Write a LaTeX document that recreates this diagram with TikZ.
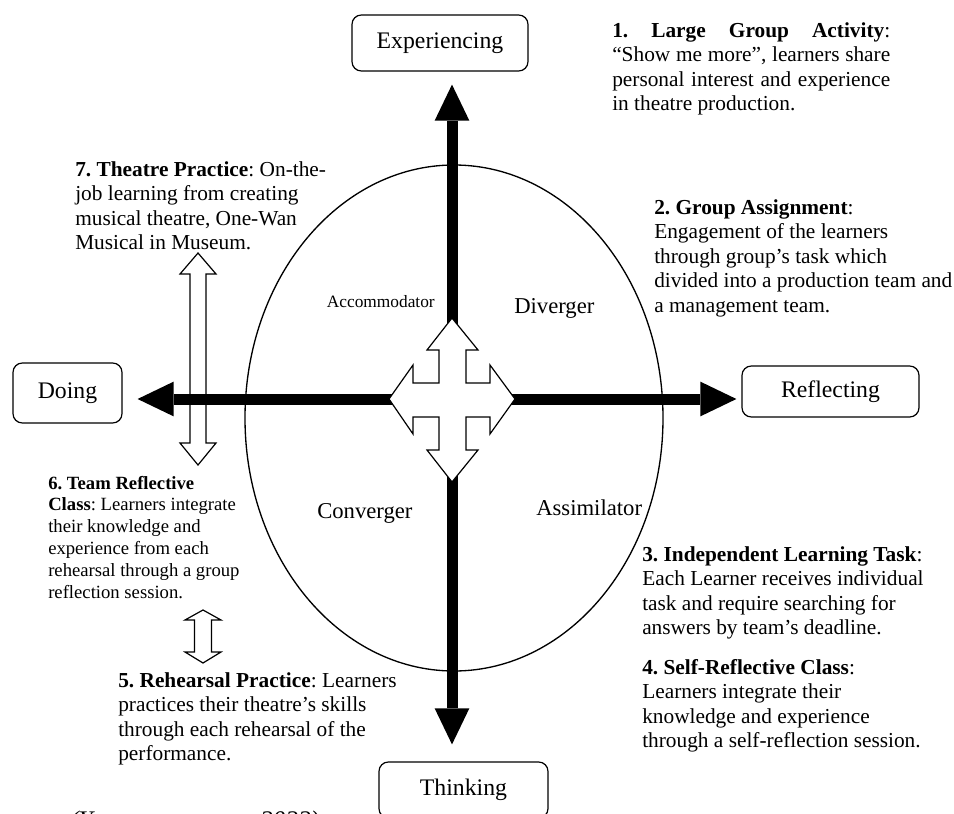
\documentclass[tikz,border=0pt]{standalone}
\usepackage{fontspec}
\setmainfont{Liberation Serif}
\usetikzlibrary{arrows.meta}
\frenchspacing

% text block whose reference point is the baseline of its first line
\newcommand\textblock[1]{\parbox[t]{420pt}{\raggedright #1}}
\newcommand\jline[1]{\makebox[208.5pt][s]{#1}}

\tikzset{
  stage/.style={draw, line width=0.9pt, rounded corners=7pt, inner sep=0pt,
                font=\fontsize{17.8}{20}\selectfont},
  note/.style={anchor=base west, inner sep=0pt, font=\fontsize{16}{18.4}\selectfont},
  smallnote/.style={note, font=\fontsize{14}{16.35}\selectfont},
  quad/.style={inner sep=0pt, font=\fontsize{17}{20}\selectfont},
  axis/.style={line width=8.25pt,
               -{Triangle[length=27pt, width=26pt, line width=0pt]}},
  hollow/.style={draw, fill=white, line width=0.9pt, line join=miter},
}

\begin{document}
\begin{tikzpicture}[x=0.75pt, y=-0.75pt]
\useasboundingbox (0,0) rectangle (954,814);
\begin{scope}
\clip (0,0) rectangle (954,814);

% learning-cycle ellipse
\draw[line width=1pt] (454,418) ellipse [x radius=209, y radius=253];

% four stages
\node[stage, minimum width=132pt, minimum height=42pt] (exp) at (440,43) {Experiencing};
\node[stage, minimum width=81.75pt, minimum height=45pt] (doing) at (67.5,393) {Doing};
\node[stage, minimum width=132.75pt, minimum height=38.25pt] (refl) at (830.5,391.5) {Reflecting};
\node[stage, minimum width=126.75pt, minimum height=42pt] (think) at (463.5,790) {Thinking};

% learning styles
\node[quad, font=\fontsize{13}{15}\selectfont, anchor=base east] (acc) at (435,307) {Accommodator};
\node[quad, anchor=base west] (div) at (514,313) {Diverger};
\node[quad, anchor=base west] (conv) at (317,518) {Converger};
\node[quad, anchor=base west] (assim) at (536,515) {Assimilator};

% hollow two-way arrows on the left
\draw[hollow] (198,253) -- (216,274) -- (206,274) -- (206,443) -- (216,443)
  -- (198,465) -- (180,443) -- (190,443) -- (190,274) -- (180,274) -- cycle;
\draw[hollow] (203,610) -- (221,620) -- (211.5,620) -- (211.5,652) -- (221,652)
  -- (203,663) -- (185,652) -- (194.5,652) -- (194.5,620) -- (185,620) -- cycle;

% axes of the cycle
\coordinate (ctr) at (452,399);
\draw[axis, shorten >=9.75pt] (ctr) -- (ctr |- exp.south);
\draw[axis, shorten >=12.75pt] (ctr) -- (ctr |- think.north);
\draw[axis, shorten >=11.25pt] (ctr) -- (ctr -| doing.east);
\draw[axis, shorten >=3.75pt] (ctr) -- (ctr -| refl.west);

% four-way arrow at the centre
\draw[hollow] (452,318) -- (478,350) -- (466,350) -- (466,383) -- (490,383)
  -- (490,365) -- (515,399) -- (490,434) -- (490,417) -- (466,417)
  -- (466,450) -- (478,450) -- (452,482) -- (427,450) -- (439,450)
  -- (439,417) -- (413,417) -- (413,434) -- (389,399) -- (413,365)
  -- (413,383) -- (439,383) -- (439,350) -- (427,350) -- cycle;

% activity notes
\node[note] (n1) at (612,37) {\textblock{%
  \jline{\textbf{1. Large Group Activity}:}\\
  \jline{“Show me more”, learners share}\\
  \jline{personal interest and experience}\\
  in theatre production.}};
\node[note] (n2) at (654,214) {\textblock{%
  \textbf{2. Group Assignment}:\\
  Engagement of the learners\\
  through group’s task which\\
  divided into a production team and\\
  a management team.}};
\node[note] (n3) at (642,561) {\textblock{%
  \textbf{3. Independent Learning Task}:\\
  Each Learner receives individual\\
  task and require searching for\\
  answers by team’s deadline.}};
\node[note] (n4) at (642,674) {\textblock{%
  \textbf{4. Self-Reflective Class}:\\
  Learners integrate their\\
  knowledge and experience\\
  through a self-reflection session.}};
\node[note] (n5) at (118,687) {\textblock{%
  \textbf{5. Rehearsal Practice}: Learners\\
  practices their theatre’s skills\\
  through each rehearsal of the\\
  performance.}};
\node[smallnote] (n6) at (48,489) {\textblock{%
  \textbf{6. Team Reflective}\\
  \textbf{Class}: Learners integrate\\
  their knowledge and\\
  experience from each\\
  rehearsal through a group\\
  reflection session.}};
\node[note] (n7) at (75,176) {\textblock{%
  \textbf{7. Theatre Practice}: On-the-\\
  job learning from creating\\
  musical theatre, One-Wan\\
  Musical in Museum.}};

% source line, running off the lower edge
\node[anchor=base west, inner sep=0pt, font=\fontsize{19}{22}\selectfont\itshape]
  (src) at (70,828) {(Yuenyaonsawan,\ \ 2022)};
\end{scope}
\end{tikzpicture}
\end{document}
